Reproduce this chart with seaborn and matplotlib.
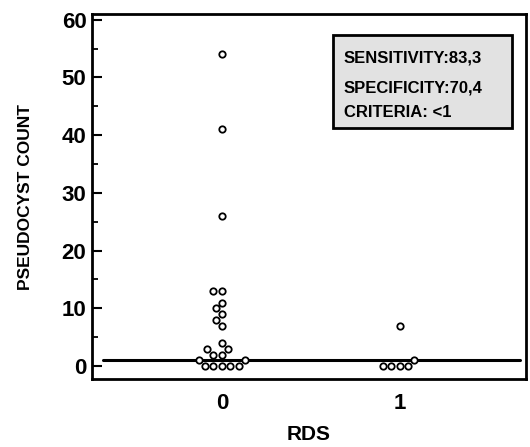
import matplotlib
matplotlib.use("Agg")
import matplotlib.pyplot as plt
import seaborn as sns
import pandas as pd
from matplotlib.ticker import MultipleLocator

sns.set_style("white")
plt.rcParams['font.family'] = ['Liberation Sans', 'DejaVu Sans']
plt.rcParams['text.color'] = 'black'
plt.rcParams['axes.labelcolor'] = 'black'
plt.rcParams['xtick.color'] = 'black'
plt.rcParams['ytick.color'] = 'black'

# Data
rds_0 = [54, 41, 26, 13, 13, 11, 10, 9, 8, 7, 4, 3, 3, 2, 2, 1, 1, 0, 0, 0, 0, 0]
rds_1 = [7, 0, 0, 0, 0, 1]
groups = ["0", "1"]
criteria = 1
stats_lines = ["SENSITIVITY:83,3", "SPECIFICITY:70,4", "CRITERIA: <1"]
y_ticks = [0, 10, 20, 30, 40, 50, 60]

df = pd.DataFrame({
    "RDS": ["0"] * len(rds_0) + ["1"] * len(rds_1),
    "count": rds_0 + rds_1,
})

fig = plt.figure(figsize=(5.30, 4.47), dpi=100)
ax = fig.add_axes([0.1736, 0.152, 0.8189, 0.8167])

sns.swarmplot(data=df, x="RDS", y="count", order=groups, ax=ax,
              color="white", edgecolor="black", linewidth=1.3, size=4.6,
              zorder=3, warn_thresh=1.0)

ax.axhline(criteria, xmin=0.025, xmax=0.986, color="black", lw=2.2, zorder=2)

ax.set_xlim(-0.73, 1.71)
ax.set_ylim(-2.25, 61.0)
ax.set_yticks(y_ticks)
ax.yaxis.set_minor_locator(MultipleLocator(5))
ax.tick_params(axis="y", which="major", direction="in", length=7, width=1.5,
               labelsize=16, left=True, pad=4, colors="black")
ax.tick_params(axis="y", which="minor", direction="in", length=4, width=1.3,
               left=True, colors="black")
ax.tick_params(axis="x", which="both", length=0, labelsize=16, pad=10, colors="black")
for lab in ax.get_xticklabels() + ax.get_yticklabels():
    lab.set_fontweight("bold")

for s in ax.spines.values():
    s.set_visible(True)
    s.set_color("black")
    s.set_linewidth(2.0)

ax.set_xlabel("RDS", fontsize=15, fontweight="bold", color="black")
ax.xaxis.set_label_coords(0.5, -0.125)
ax.set_ylabel("PSEUDOCYST COUNT", fontsize=12.5, fontweight="bold", color="black")
ax.yaxis.set_label_coords(-0.135, 0.5)

# stats box
box = plt.Rectangle((0.555, 0.688), 0.413, 0.254, transform=ax.transAxes,
                    facecolor="#e2e2e2", edgecolor="black", lw=2.0, zorder=4)
ax.add_patch(box)
ys = [0.879, 0.797, 0.731]
for t, yy in zip(stats_lines, ys):
    ax.text(0.58, yy, t, transform=ax.transAxes, fontsize=12, color="black",
            fontweight="bold", va="center", ha="left", zorder=5,
            family=["Liberation Sans Narrow", "Liberation Sans", "DejaVu Sans"])

fig.savefig("out.png", dpi=100, facecolor="white")
